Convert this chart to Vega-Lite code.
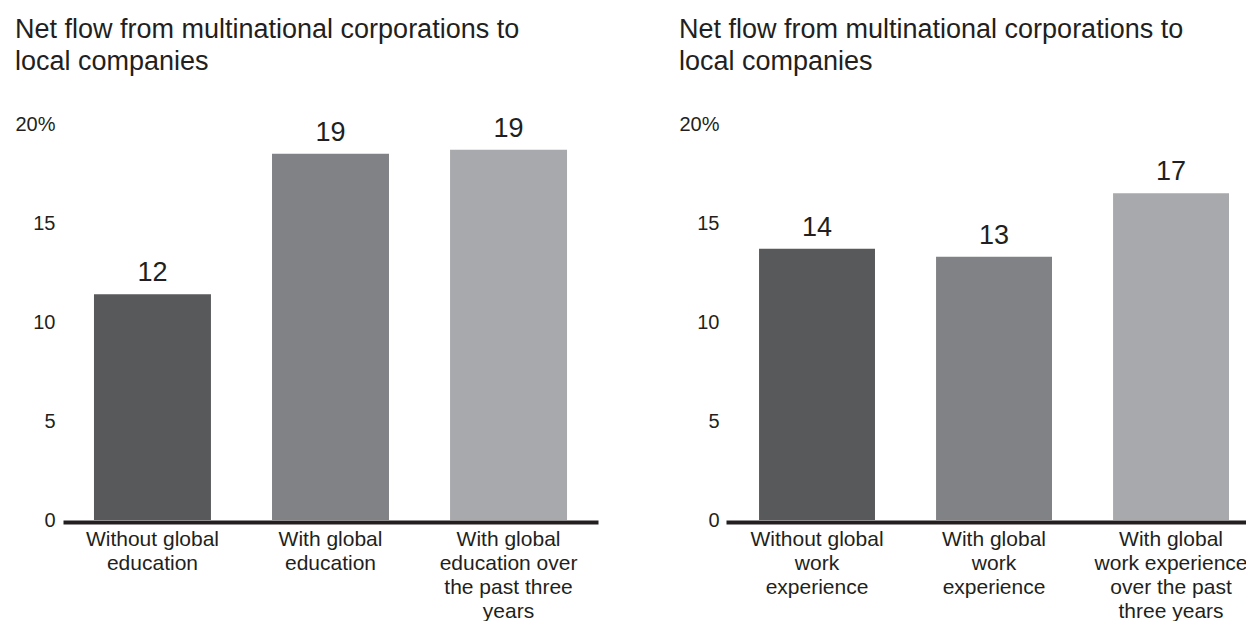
{
  "$schema": "https://vega.github.io/schema/vega-lite/v6.json",
  "padding": {"left": 14, "top": 16, "right": 0, "bottom": 0},
  "background": "white",
  "config": {
    "view": {"stroke": null},
    "font": "Liberation Sans",
    "title": {"anchor": "start", "fontSize": 27, "fontWeight": "normal", "color": "#231f20", "lineHeight": 32, "offset": 38},
    "axisX": {"title": null, "labelAngle": 0, "ticks": false, "domainColor": "#231f20", "domainWidth": 4, "offset": 2, "labelExpr": "split(datum.label, '\\n')", "labelFontSize": 21, "labelLineHeight": 24, "labelColor": "#231f20", "labelPadding": 6, "labelLimit": 0}
  },
  "spacing": 80,
  "resolve": {"scale": {"color": "independent"}},
  "hconcat": [
    {
      "width": 535,
      "height": 396,
      "title": {"text": ["Net flow from multinational corporations to", "local companies"]},
      "data": {"values": [
        {"group": "Without global\neducation", "value": 11.4, "label": "12"},
        {"group": "With global\neducation", "value": 18.5, "label": "19"},
        {"group": "With global\neducation over\nthe past three\nyears", "value": 18.7, "label": "19"}
      ]},
      "encoding": {
        "x": {"field": "group", "type": "nominal", "sort": null, "scale": {"paddingInner": 0.343, "paddingOuter": 0.174}},
        "y": {"field": "value", "type": "quantitative", "scale": {"domain": [0, 20]}, "axis": {"values": [0, 5, 10, 15, 20], "labelExpr": "datum.value == 20 ? '20%' : datum.label", "title": null, "domain": false, "ticks": false, "grid": false, "labelFontSize": 20, "labelColor": "#231f20", "labelPadding": 8}}
      },
      "layer": [
        {"mark": {"type": "bar"}, "encoding": {"color": {"field": "group", "type": "nominal", "sort": null, "scale": {"range": ["#58595b", "#808285", "#a7a9ac"]}, "legend": null}}},
        {"mark": {"type": "text", "dy": -21, "fontSize": 27, "color": "#231f20"}, "encoding": {"text": {"field": "label"}}}
      ]
    },
    {
      "width": 522,
      "height": 396,
      "title": {"text": ["Net flow from multinational corporations to", "local companies"]},
      "data": {"values": [
        {"group": "Without global\nwork\nexperience", "value": 13.7, "label": "14"},
        {"group": "With global\nwork\nexperience", "value": 13.3, "label": "13"},
        {"group": "With global\nwork experience\nover the past\nthree years", "value": 16.5, "label": "17"}
      ]},
      "encoding": {
        "x": {"field": "group", "type": "nominal", "sort": null, "scale": {"paddingInner": 0.345, "paddingOuter": 0.147, "align": 0.635}},
        "y": {"field": "value", "type": "quantitative", "scale": {"domain": [0, 20]}, "axis": {"values": [0, 5, 10, 15, 20], "labelExpr": "datum.value == 20 ? '20%' : datum.label", "title": null, "domain": false, "ticks": false, "grid": false, "labelFontSize": 20, "labelColor": "#231f20", "labelPadding": 7}}
      },
      "layer": [
        {"mark": {"type": "bar"}, "encoding": {"color": {"field": "group", "type": "nominal", "sort": null, "scale": {"range": ["#58595b", "#808285", "#a7a9ac"]}, "legend": null}}},
        {"mark": {"type": "text", "dy": -21, "fontSize": 27, "color": "#231f20"}, "encoding": {"text": {"field": "label"}}}
      ]
    }
  ]
}
